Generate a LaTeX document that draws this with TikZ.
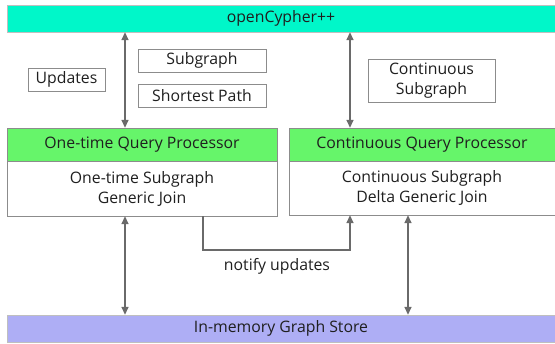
\documentclass[tikz,border=0pt]{standalone}
\usepackage{fontspec}
\setmainfont{Open Sans}
\usetikzlibrary{arrows.meta}

\definecolor{barcyan}{HTML}{00F7C9}
\definecolor{procgreen}{HTML}{66F56A}
\definecolor{storeblue}{HTML}{AEAEF5}
\definecolor{linegray}{HTML}{6A6A6A}

\tikzset{
  bar/.style={draw=black!25, minimum height=27pt, inner sep=0pt},
  head/.style={draw=black!45, fill=procgreen, minimum height=33pt, inner sep=0pt},
  body/.style={draw=black!45, fill=white, align=center, inner sep=0pt},
  tag/.style={draw=black!45, fill=white, align=center, inner sep=0pt},
  link/.style={draw=linegray, line width=1.5pt, {Triangle[length=8pt,width=7pt]}-{Triangle[length=8pt,width=7pt]}},
  oneway/.style={draw=linegray, line width=1.5pt, -{Triangle[length=8pt,width=7pt]}}
}

\begin{document}
\begin{tikzpicture}[x=1pt, y=-1pt, font=\fontsize{15.8}{20}\selectfont, text=black!88]
	\useasboundingbox (0,0) rectangle (555,344);
	% Bars on top and at the bottom:
	\node[bar, fill=barcyan, minimum width=548pt] (cypher) at (281,18.5) {openCypher++};
	\node[bar, fill=storeblue, minimum width=548pt] (store) at (281,328.5) {In-memory Graph Store};
	% Query processors:
	\node[head, minimum width=270pt] (oneproc) at (142,144.5) {One-time Query Processor};
	\node[body, minimum width=270pt, minimum height=55pt] (onebody) at (142,188.5) {One-time Subgraph\\Generic Join};
	\node[head, minimum width=266pt] (contproc) at (422,144.5) {Continuous Query Processor};
	\node[body, minimum width=266pt, minimum height=54pt] (contbody) at (422,188) {Continuous Subgraph\\Delta Generic Join};
	% Labels next to the arrows:
	\node[tag, minimum width=77pt, minimum height=23pt] (updates) at (66.5,79.5) {Updates};
	\node[tag, minimum width=128pt, minimum height=23pt] (subg) at (202,60.5) {Subgraph};
	\node[tag, minimum width=128pt, minimum height=23pt] (spath) at (202,95.5) {Shortest Path};
	\node[tag, minimum width=127pt, minimum height=43pt] (contsub) at (431.5,80.5) {Continuous\\Subgraph};
	% Arrows:
	\draw[link] (cypher.south -| 125,0) -- (oneproc.north -| 125,0);
	\draw[link] (cypher.south -| 350,0) -- (contproc.north -| 350,0);
	\draw[link] (onebody.south -| 125,0) -- (store.north -| 125,0);
	\draw[link] (contbody.south -| 408,0) -- (store.north -| 408,0);
	\draw[oneway] (onebody.south -| 203,0) |- (276,250) -| (contbody.south -| 350,0);
	\node (notify) at (277,266) {notify updates};
\end{tikzpicture}
\end{document}
